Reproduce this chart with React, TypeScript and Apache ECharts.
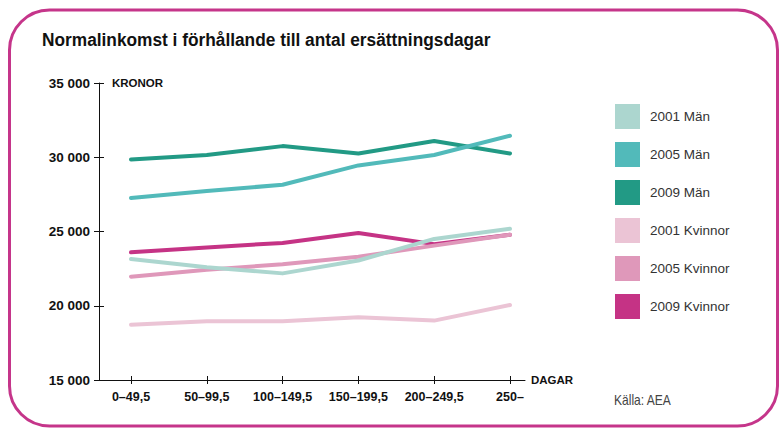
import React, { useEffect, useRef } from "react";
import * as echarts from "echarts";

const categories = ["0–49,5", "50–99,5", "100–149,5", "150–199,5", "200–249,5", "250–"];
const seriesNames = ["2001 Män", "2005 Män", "2009 Män", "2001 Kvinnor", "2005 Kvinnor", "2009 Kvinnor"];
const man2001 = [23150, 22600, 22180, 23050, 24500, 25180];
const man2005 = [27250, 27720, 28150, 29450, 30150, 31450];
const man2009 = [29850, 30150, 30750, 30250, 31100, 30250];
const kvinnor2001 = [18720, 18950, 18950, 19220, 19000, 20050];
const kvinnor2005 = [21960, 22420, 22800, 23300, 24050, 24780];
const kvinnor2009 = [23600, 23930, 24230, 24900, 24150, 24780];
const seriesValues = [man2001, man2005, man2009, kvinnor2001, kvinnor2005, kvinnor2009];
const seriesColors = ["#acd6cf", "#52baba", "#229a85", "#ebc4d5", "#df98ba", "#c53385"];
const seriesZ = [7, 5, 3, 4, 6, 2];
const yTicks = { min: 15000, max: 35000, step: 5000 };

const SANS = '"Liberation Sans", Arial, sans-serif';

export default function App() {
  const ref = useRef<HTMLDivElement>(null);
  useEffect(() => {
    if (!ref.current) return;
    const chart = echarts.init(ref.current, undefined, { renderer: "svg" });
    const tickIdx = categories.map((_, i) => i);
    const xBase = {
      type: "value",
      min: -0.422,
      max: 5.198,
      splitLine: { show: false },
    };
    chart.setOption({
      animation: false,
      backgroundColor: "#ffffff",
      graphic: [
        {
          type: "rect",
          shape: { x: 9.5, y: 10, width: 768, height: 416, r: 40 },
          style: { fill: "none", stroke: "#c5358a", lineWidth: 3 },
          silent: true,
        },
        {
          type: "text",
          x: 42,
          y: 40,
          scaleX: 0.91,
          style: {
            text: "Normalinkomst i förhållande till antal ersättningsdagar",
            font: `bold 19px ${SANS}`,
            fill: "#111",
            verticalAlign: "middle",
          },
        },
        {
          type: "text",
          x: 614,
          y: 400,
          scaleX: 0.86,
          style: { text: "Källa: AEA", font: `14px ${SANS}`, fill: "#444", verticalAlign: "middle" },
        },
      ],
      legend: {
        orient: "vertical",
        left: 615,
        top: 104,
        padding: 0,
        icon: "rect",
        itemWidth: 25,
        itemHeight: 25,
        itemGap: 13,
        data: seriesNames,
        itemStyle: { borderWidth: 0 },
        textStyle: { fontFamily: SANS, fontSize: 13.5, color: "#333", padding: [0, 0, 0, 5] },
        selectedMode: false,
      },
      grid: { left: 99, right: 255, top: 83, bottom: 48, containLabel: false },
      xAxis: [
        {
          ...xBase,
          name: "DAGAR",
          nameLocation: "end",
          nameGap: 6,
          nameTextStyle: { fontFamily: SANS, fontWeight: "bold", fontSize: 11.5, color: "#111" },
          axisLine: { show: true, onZero: false, lineStyle: { color: "#111", width: 1 } },
          axisTick: { show: true, length: 4, customValues: tickIdx, lineStyle: { color: "#111" } },
          axisLabel: {
            show: true,
            customValues: tickIdx,
            margin: 10,
            formatter: (v: number) => categories[Math.round(v)] ?? "",
            fontFamily: SANS,
            fontWeight: "bold",
            fontSize: 12.5,
            color: "#111",
          },
        },
        {
          ...xBase,
          position: "bottom",
          axisLine: { show: false, onZero: false },
          axisTick: { show: true, inside: true, length: 4, customValues: tickIdx, lineStyle: { color: "#111" } },
          axisLabel: { show: false },
        },
      ],
      yAxis: [
        {
          type: "value",
          min: yTicks.min,
          max: yTicks.max,
          interval: yTicks.step,
          name: "KRONOR",
          nameLocation: "end",
          nameGap: 0,
          nameTextStyle: {
            fontFamily: SANS,
            fontWeight: "bold",
            fontSize: 11.5,
            color: "#111",
            align: "left",
            verticalAlign: "middle",
            padding: [0, 0, 0, 13],
          },
          splitLine: { show: false },
          axisLine: { show: true, onZero: false, lineStyle: { color: "#111", width: 1 } },
          axisTick: { show: true, length: 5, lineStyle: { color: "#111" } },
          axisLabel: {
            margin: 9,
            formatter: (v: number) => String(v).replace(/\B(?=(\d{3})+(?!\d))/g, " "),
            fontFamily: SANS,
            fontWeight: "bold",
            fontSize: 13.5,
            color: "#111",
          },
        },
        {
          type: "value",
          position: "left",
          min: yTicks.min,
          max: yTicks.max,
          interval: yTicks.step,
          splitLine: { show: false },
          axisLine: { show: false, onZero: false },
          axisTick: { show: true, inside: true, length: 5, lineStyle: { color: "#111" } },
          axisLabel: { show: false },
        },
      ],
      series: seriesNames.map((name, s) => ({
        name,
        type: "line",
        xAxisIndex: 0,
        yAxisIndex: 0,
        z: seriesZ[s],
        color: seriesColors[s],
        symbol: "none",
        lineStyle: { width: 4, color: seriesColors[s], cap: "round", join: "round" },
        data: seriesValues[s].map((v, i) => [i, v]),
      })),
    });
    return () => chart.dispose();
  }, []);
  return (
    <div
      ref={ref}
      style={{ position: "fixed", left: 0, top: 0, width: 780, height: 428, background: "#fff" }}
    />
  );
}
